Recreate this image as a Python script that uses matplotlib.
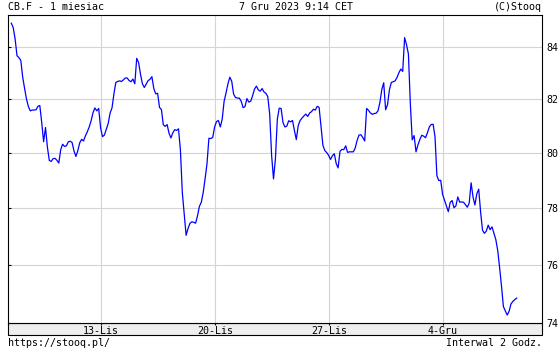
import numpy as np
import matplotlib
matplotlib.use("Agg")
import matplotlib.pyplot as plt
from matplotlib.patches import Rectangle
from matplotlib.ticker import NullLocator, FixedLocator, FixedFormatter

# ---- data (2-hour bars, CB.F close) ----
prices = [
    84.92, 84.75, 84.31, 83.66, 83.59, 83.48, 82.84, 82.41, 82.01, 81.73,
    81.57, 81.60, 81.60, 81.61, 81.74, 81.77, 81.14, 80.42, 80.95, 80.22,
    79.73, 79.70, 79.80, 79.81, 79.74, 79.64, 80.13, 80.33, 80.25, 80.27,
    80.42, 80.44, 80.39, 80.08, 79.88, 80.09, 80.38, 80.51, 80.45, 80.64,
    80.79, 80.97, 81.20, 81.50, 81.68, 81.57, 81.66, 80.93, 80.61, 80.67,
    80.88, 81.10, 81.49, 81.68, 82.20, 82.64, 82.68, 82.70, 82.68, 82.74,
    82.81, 82.81, 82.71, 82.67, 82.77, 82.59, 83.56, 83.40, 82.95, 82.59,
    82.45, 82.58, 82.71, 82.76, 82.86, 82.41, 82.21, 82.23, 81.70, 81.62,
    81.05, 80.99, 81.06, 80.74, 80.56, 80.75, 80.87, 80.84, 80.90, 80.12,
    78.57, 77.80, 77.04, 77.28, 77.46, 77.52, 77.50, 77.47, 77.73, 78.07,
    78.22, 78.57, 79.07, 79.62, 80.55, 80.54, 80.58, 80.97, 81.17, 81.21,
    80.97, 81.26, 81.93, 82.24, 82.58, 82.84, 82.69, 82.20, 82.07, 82.05,
    82.05, 81.93, 81.69, 81.73, 82.03, 81.90, 81.93, 82.14, 82.39, 82.50,
    82.36, 82.31, 82.41, 82.28, 82.23, 82.10, 81.44, 79.92, 79.06, 79.78,
    81.25, 81.67, 81.66, 81.13, 80.97, 81.00, 81.20, 81.16, 81.21, 80.84,
    80.50, 81.02, 81.21, 81.30, 81.38, 81.45, 81.36, 81.49, 81.54, 81.63,
    81.60, 81.74, 81.70, 80.98, 80.29, 80.10, 80.02, 79.92, 79.77, 79.91,
    79.98, 79.62, 79.46, 80.07, 80.14, 80.13, 80.27, 80.03, 80.05, 80.05,
    80.05, 80.19, 80.47, 80.67, 80.68, 80.58, 80.45, 81.66, 81.59, 81.49,
    81.44, 81.47, 81.48, 81.57, 81.89, 82.37, 82.63, 81.61, 81.80, 82.36,
    82.64, 82.67, 82.70, 82.83, 83.01, 83.15, 83.06, 84.36, 84.09, 83.73,
    81.87, 80.49, 80.65, 80.05, 80.30, 80.50, 80.66, 80.63, 80.57, 80.75,
    80.97, 81.06, 81.07, 80.61, 79.17, 79.00, 79.01, 78.50, 78.29, 78.09,
    77.88, 78.21, 78.28, 78.02, 78.09, 78.41, 78.22, 78.23, 78.22, 78.13,
    78.04, 78.19, 78.92, 78.41, 78.12, 78.52, 78.69, 77.87, 77.22, 77.11,
    77.19, 77.40, 77.24, 77.34, 77.12, 76.89, 76.51, 75.91, 75.26, 74.56,
    74.41, 74.27, 74.40, 74.65, 74.74, 74.80, 74.85,
]
x_tick_labels = ["13-Lis", "20-Lis", "27-Lis", "4-Gru"]
x_tick_days = [0, 5, 10, 15]          # trading days relative to 13-Lis
y_ticks = [74, 76, 78, 80, 82, 84]
title_left = "CB.F - 1 miesiac"
title_mid = "7 Gru 2023 9:14 CET"
title_right = "(C)Stooq"
foot_left = "https://stooq.pl/"
foot_right = "Interwal 2 Godz."

# ---- layout ----
W, H = 560, 350
BARS_PER_DAY = 12
FIRST_BAR_DAY = -3.934
days = FIRST_BAR_DAY + np.arange(len(prices)) / BARS_PER_DAY

mono = "DejaVu Sans Mono"
fs = 7.2

fig = plt.figure(figsize=(W / 100, H / 100), dpi=100)
fig.patch.set_facecolor("white")
L, R, T, B = 8, 542, 15, 323
ax = fig.add_axes([L / W, 1 - B / H, (R - L) / W, (B - T) / H])

# gray band under axis
band = Rectangle((L / W, 1 - 335 / H), (R - L) / W, 12 / H, transform=fig.transFigure,
                 facecolor="#eeeeee", edgecolor="black", linewidth=0.8, zorder=-1)
fig.add_artist(band)

ax.plot(days, prices, color="#0000ff", linewidth=0.9, zorder=3)

ax.set_yscale("log")
ax.set_ylim(74, 85.24)
ax.set_xlim(-4.079, 19.342)
ax.yaxis.set_major_locator(FixedLocator(y_ticks))
ax.yaxis.set_major_formatter(FixedFormatter([str(v) for v in y_ticks]))
ax.yaxis.set_minor_locator(NullLocator())
ax.set_xticks(x_tick_days)
ax.set_xticklabels(x_tick_labels)
ax.xaxis.set_minor_locator(NullLocator())

ax.grid(True, color="#d4d4d4", linewidth=0.8)
ax.set_axisbelow(True)
for s in ax.spines.values():
    s.set_color("black")
    s.set_linewidth(0.8)

ax.tick_params(axis="y", which="major", left=True, right=False, labelleft=False,
               labelright=True, direction="in", length=2.5, color="black", pad=3,
               labelsize=fs)
ax.tick_params(axis="x", which="major", direction="out", length=1.5, color="black",
               pad=0.8, labelsize=fs)
for lab in ax.get_xticklabels() + ax.get_yticklabels():
    lab.set_fontfamily(mono)

def ftext(x, y, s, ha):
    fig.text(x / W, 1 - y / H, s, ha=ha, va="center", fontsize=fs, family=mono,
             color="black")

ftext(8, 7.5, title_left, "left")
ftext(239, 7.5, title_mid, "left")
ftext(542, 7.5, title_right, "right")
ftext(8, 343.5, foot_left, "left")
ftext(542, 343.5, foot_right, "right")

fig.savefig("out.png", dpi=100, facecolor="white")
